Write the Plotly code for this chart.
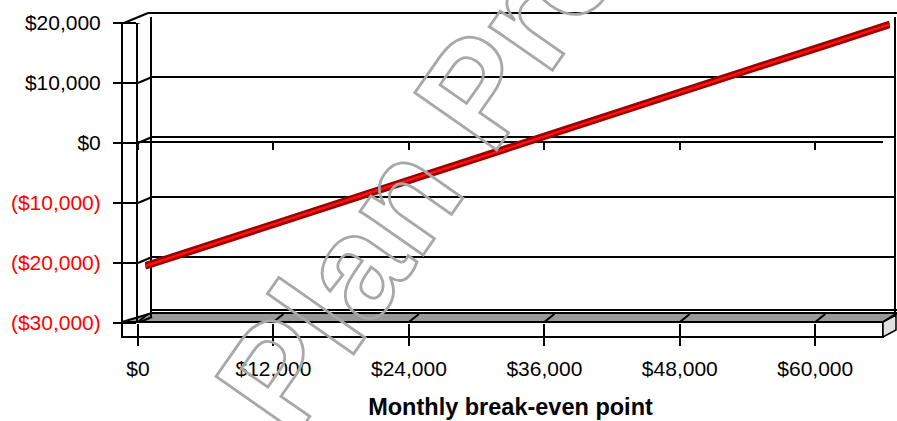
import plotly.graph_objects as go

# ---------------- data ----------------
sales = [0, 6000, 12000, 18000, 24000, 30000, 36000, 42000, 48000, 54000, 60000, 66000]
profit = [-21000, -17300, -13700, -10000, -6300, -2700, 1000, 4600, 8300, 12000, 15600, 19300]
x_ticks = [0, 12000, 24000, 36000, 48000, 60000]
x_labels = ["$0", "$12,000", "$24,000", "$36,000", "$48,000", "$60,000"]
y_ticks = [-30000, -20000, -10000, 0, 10000, 20000]
y_labels = ["($30,000)", "($20,000)", "($10,000)", "$0", "$10,000", "$20,000"]

W, H = 897, 421
FONT = "Liberation Sans, Arial, sans-serif"


def px(x):
    return x / W


def py(y):
    return 1 - y / H


def ylab(v, t):
    return f"<span style='color:#ff0000'>{t}</span>" if v < 0 else t


fig = go.Figure()

# invisible traces so every subplot exists
fig.add_trace(go.Scatter(x=[None], y=[None], xaxis="x", yaxis="y", showlegend=False, hoverinfo="skip"))
fig.add_trace(go.Scatter(x=[None], y=[None], xaxis="x4", yaxis="y", showlegend=False, hoverinfo="skip"))
fig.add_trace(go.Scatter(x=[None], y=[None], xaxis="x2", yaxis="y2", showlegend=False, hoverinfo="skip"))

# red 3D-like tube
fig.add_trace(go.Scatter(x=sales, y=profit, xaxis="x3", yaxis="y3", mode="lines",
                         line=dict(color="#990000", width=7.5), showlegend=False, hoverinfo="skip"))
fig.add_trace(go.Scatter(x=sales, y=profit, xaxis="x3", yaxis="y3", mode="lines",
                         line=dict(color="#ff1010", width=2.5), showlegend=False, hoverinfo="skip"))

LK = dict(color="black", width=2)
shapes = []
# floor top surface (gray)
shapes.append(dict(type="path", xref="paper", yref="paper", layer="below",
                   path=f"M {px(122)},{py(322)} L {px(883)},{py(322)} L {px(897)},{py(313)} L {px(152)},{py(313)} Z",
                   fillcolor="#999999", line=LK))
shapes.append(dict(type="line", xref="paper", yref="paper", layer="below",
                   x0=px(152), x1=px(897), y0=py(310), y1=py(310), line=LK))
# floor front face
shapes.append(dict(type="rect", xref="paper", yref="paper", layer="below",
                   x0=px(122), x1=px(883), y0=py(337), y1=py(322), fillcolor="white", line=LK))
# floor end cap
shapes.append(dict(type="path", xref="paper", yref="paper", layer="below",
                   path=f"M {px(883)},{py(322)} L {px(896)},{py(315)} L {px(896)},{py(330)} L {px(883)},{py(337)} Z",
                   fillcolor="#e0e0e0", line=dict(color="black", width=1.5)))
# front-left vertical edge
shapes.append(dict(type="line", xref="paper", yref="paper", layer="below",
                   x0=px(122), x1=px(122), y0=py(23), y1=py(337), line=LK))
# top wall thickness
shapes.append(dict(type="line", xref="paper", yref="paper", layer="below",
                   x0=px(148), x1=px(897), y0=py(13), y1=py(13), line=LK))
shapes.append(dict(type="line", xref="paper", yref="paper", layer="below",
                   x0=px(124), x1=px(148), y0=py(23), y1=py(13), line=LK))
# left wall diagonals at every y tick (front -> back)
for v in y_ticks:
    shapes.append(dict(type="line", xref="paper", yref="y", layer="below",
                       ysizemode="pixel", yanchor=v, y0=0, y1=6,
                       x0=px(138), x1=px(152), line=LK))
# floor diagonals at every x tick
for v in x_ticks:
    shapes.append(dict(type="line", xref="x", yref="paper", layer="below",
                       xsizemode="pixel", xanchor=v, x0=0, x1=10,
                       y0=py(322), y1=py(314), line=LK))

AX = dict(showgrid=False, zeroline=False, automargin=False)

fig.update_layout(
    width=W, height=H,
    margin=dict(l=0, r=0, t=0, b=0, autoexpand=False),
    paper_bgcolor="white", plot_bgcolor="rgba(0,0,0,0)",
    font=dict(family=FONT, size=21, color="black"),
    showlegend=False,
    shapes=shapes,
    # front plane
    xaxis=dict(AX, domain=[px(138), px(883)], range=[0, 66000], anchor="y",
               tickvals=x_ticks, ticktext=x_labels, ticks="outside", ticklen=22,
               tickwidth=2, tickcolor="black", showline=False,
               ticklabelstandoff=5,
               tickfont=dict(family=FONT, size=21, color="black"),
               title=dict(text="<b>Monthly break-even point</b>", standoff=19,
                          font=dict(family=FONT, size=23.5, color="black"))),
    yaxis=dict(AX, domain=[py(323), py(23)], range=[-30000, 20000], anchor="x",
               tickvals=y_ticks, ticktext=[ylab(v, t) for v, t in zip(y_ticks, y_labels)],
               ticks="outside", ticklen=23, tickwidth=2, tickcolor="black",
               showline=True, linecolor="black", linewidth=2,
               ticklabelstandoff=8,
               tickfont=dict(family=FONT, size=21, color="black")),
    # $0 crossing category axis
    xaxis4=dict(AX, overlaying="x", anchor="free", position=py(142), side="bottom",
                range=[0, 66000], tickvals=x_ticks, showticklabels=False,
                ticks="outside", ticklen=7, tickwidth=2, tickcolor="black",
                showline=True, linecolor="black", linewidth=2),
    # back wall
    xaxis2=dict(AX, domain=[px(152), px(894)], range=[0, 1], anchor="y2",
                showticklabels=False, ticks="", showline=False),
    yaxis2=dict(domain=[py(317), py(17)], range=[-30000, 20000], anchor="x2",
                zeroline=False, showgrid=True, gridcolor="black", gridwidth=2, automargin=False,
                tickvals=[-20000, -10000, 0, 10000, 20000], showticklabels=False, ticks="",
                showline=True, mirror=True, linecolor="black", linewidth=2),
    # middle plane for the data line
    xaxis3=dict(AX, domain=[px(145), px(890)], range=[0, 66000], anchor="y3", visible=False),
    yaxis3=dict(AX, domain=[py(320), py(20)], range=[-30000, 20000], anchor="x3", visible=False),
)

# watermark (outlined text)
fig.add_annotation(
    xref="paper", yref="paper", x=px(420), y=py(172), xanchor="center", yanchor="middle",
    text="<span style='fill:none;stroke:#a8a8a8;stroke-width:2.8px'>Plan Pro</span>",
    showarrow=False, textangle=-55,
    font=dict(family=FONT, size=145, color="rgba(0,0,0,0)", weight="bold"),
)

fig.write_html("out.html", config={"displayModeBar": False, "staticPlot": True},
               post_script="document.body.style.margin='0';document.body.style.padding='0';")
